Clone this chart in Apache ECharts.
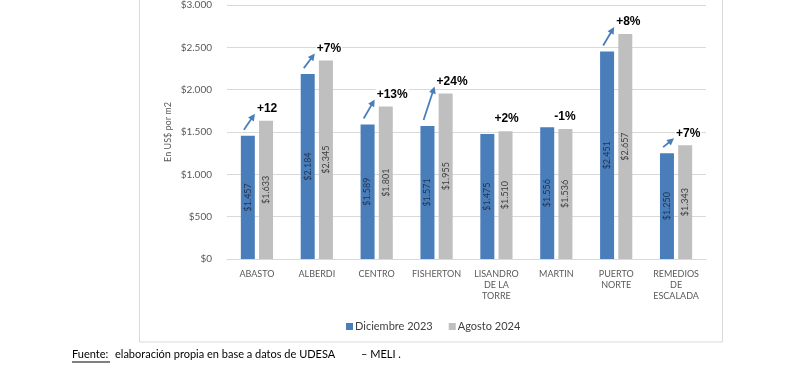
<!DOCTYPE html>
<html>
<head>
<meta charset="utf-8">
<script src="https://cdn.jsdelivr.net/npm/echarts@6/dist/echarts.min.js"></script>
<style>
  html, body { margin: 0; padding: 0; background: #fff; }
  #chart { width: 800px; height: 375px; }
</style>
</head>
<body>
<div id="chart"></div>
<script>
var categories = ['ABASTO', 'ALBERDI', 'CENTRO', 'FISHERTON', 'LISANDRO\nDE LA\nTORRE', 'MARTIN', 'PUERTO\nNORTE', 'REMEDIOS\nDE\nESCALADA'];
var dic2023 = [1457, 2184, 1589, 1571, 1475, 1556, 2451, 1250];
var ago2024 = [1633, 2345, 1801, 1955, 1510, 1536, 2657, 1343];
var changeLabels = ['+12', '+7%', '+13%', '+24%', '+2%', '-1%', '+8%', '+7%'];
var showArrow = [true, true, true, true, false, false, true, true];

var BLUE = '#4a7ebb';
var GRAY = '#bfbfbf';
var FONT = 'Lato';

function money(v) {
    return '$' + String(v).replace(/\B(?=(\d{3})+(?!\d))/g, '.');
}

var myChart = echarts.init(document.getElementById('chart'));

// flechas y porcentajes sobre cada barrio
function renderChange(params, api) {
    var i = api.value(0);
    var cx = api.coord([i, 0])[0];
    var blueTop = api.coord([i, api.value(1)])[1];
    var grayTop = api.coord([i, api.value(2)])[1];
    var off = 9;
    var arrow = showArrow[params.dataIndex];
    var tx = cx + off - (arrow ? 10 : 12);
    var ty = grayTop - 12;
    var children = [{
        type: 'text',
        style: {
            text: changeLabels[params.dataIndex],
            x: tx, y: ty,
            verticalAlign: 'middle',
            font: 'bold 12px "Liberation Sans"',
            fill: '#000',
            backgroundColor: '#fff',
            padding: [1, 1]
        },
        z2: 10
    }];
    if (arrow) {
        var x1 = cx - off - 4, y1 = blueTop - 6;
        var x2 = tx - 1, y2 = ty + 5;
        var dx = x2 - x1, dy = y2 - y1;
        var len = Math.sqrt(dx * dx + dy * dy);
        var ux = dx / len, uy = dy / len;
        var nx = -uy, ny = ux;
        children.push({
            type: 'line',
            shape: { x1: x1, y1: y1, x2: x2 - ux * 5, y2: y2 - uy * 5 },
            style: { stroke: BLUE, lineWidth: 1.8 }
        });
        children.push({
            type: 'polygon',
            shape: { points: [
                [x2, y2],
                [x2 - ux * 7 + nx * 3.5, y2 - uy * 7 + ny * 3.5],
                [x2 - ux * 7 - nx * 3.5, y2 - uy * 7 - ny * 3.5]
            ] },
            style: { fill: BLUE }
        });
    }
    return { type: 'group', children: children };
}

var option = {
    backgroundColor: '#fff',
    animation: false,
    textStyle: { fontFamily: FONT },
    grid: { left: 227, right: 94, top: 5, bottom: 116 },
    legend: {
        data: ['Diciembre 2023', 'Agosto 2024'],
        left: 341,
        top: 316,
        icon: 'rect',
        itemWidth: 7,
        itemHeight: 7,
        itemGap: 16,
        textStyle: { fontSize: 11, color: '#404040', fontFamily: FONT, padding: [0, 0, 0, -3] }
    },
    xAxis: {
        type: 'category',
        data: categories,
        axisTick: { show: false },
        axisLine: { lineStyle: { color: '#d9d9d9' } },
        axisLabel: { color: '#595959', fontSize: 9, lineHeight: 11, margin: 10, interval: 0 }
    },
    yAxis: {
        type: 'value',
        min: 0,
        max: 3000,
        interval: 500,
        name: 'En US$ por m2',
        nameLocation: 'middle',
        nameGap: 54,
        nameMoveOverlap: false,
        nameTextStyle: { color: '#595959', fontSize: 9 },
        axisLabel: { color: '#595959', fontSize: 10, margin: 15, formatter: money },
        splitLine: { lineStyle: { color: '#d9d9d9' } }
    },
    series: [{
        name: 'Diciembre 2023',
        type: 'bar',
        data: dic2023,
        barWidth: 14,
        barGap: '30%',
        itemStyle: { color: BLUE },
        label: {
            show: true, position: 'inside', rotate: 90,
            fontSize: 9, color: '#1f3350',
            formatter: function (p) { return money(p.value); }
        }
    }, {
        name: 'Agosto 2024',
        type: 'bar',
        data: ago2024,
        barWidth: 14,
        itemStyle: { color: GRAY },
        label: {
            show: true, position: 'inside', rotate: 90,
            fontSize: 9, color: '#404040',
            formatter: function (p) { return money(p.value); }
        }
    }, {
        type: 'custom',
        silent: true,
        z: 10,
        renderItem: renderChange,
        data: categories.map(function (c, i) { return [i, dic2023[i], ago2024[i]]; })
    }],
    graphic: [{
        type: 'rect',
        silent: true,
        shape: { x: 139.5, y: -10, width: 583, height: 352 },
        style: { fill: null, stroke: '#d9d9d9', lineWidth: 1 }
    }, {
        type: 'text',
        left: 72, top: 349,
        style: { text: 'Fuente:', font: '11px Lato', fill: '#000' }
    }, {
        type: 'line',
        shape: { x1: 72, y1: 362, x2: 110, y2: 362 },
        style: { stroke: '#000', lineWidth: 1 }
    }, {
        type: 'text',
        left: 115, top: 349,
        style: { text: 'elaboración propia en base a datos de UDESA', font: '11px Lato', fill: '#000' }
    }, {
        type: 'text',
        left: 361, top: 349,
        style: { text: '– MELI .', font: '11px Lato', fill: '#000' }
    }]
};

myChart.setOption(option);
</script>
</body>
</html>
